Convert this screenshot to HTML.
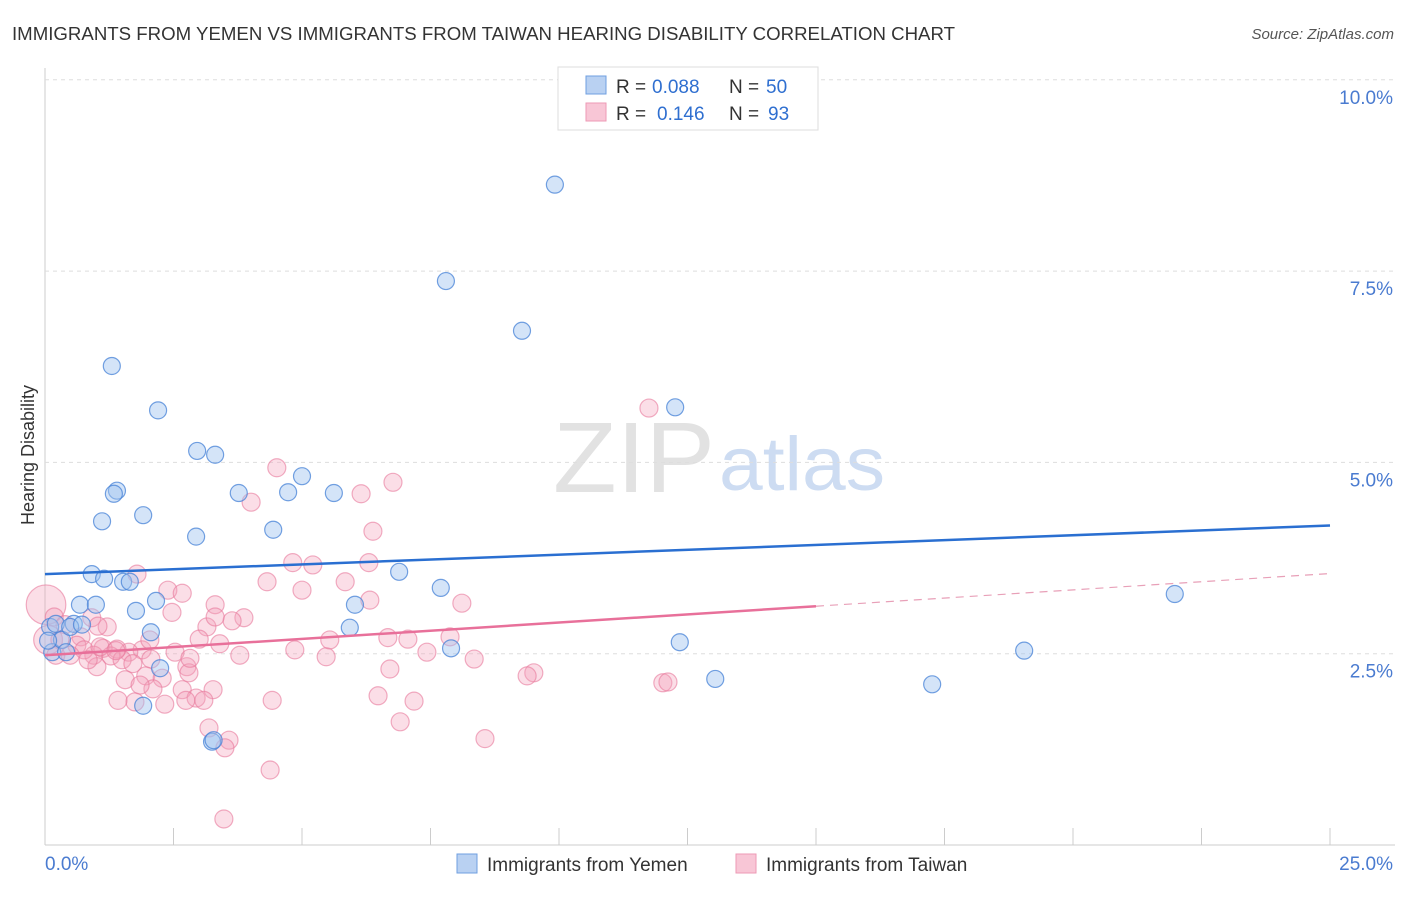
<!DOCTYPE html>
<html><head><meta charset="utf-8"><style>
body{margin:0;background:#fff;font-family:"Liberation Sans",sans-serif}
svg text{font-family:"Liberation Sans",sans-serif}
</style></head><body>
<svg id="c" width="1406" height="892">
<text x="12" y="40" font-size="18" fill="#333" textLength="943" lengthAdjust="spacingAndGlyphs">IMMIGRANTS FROM YEMEN VS IMMIGRANTS FROM TAIWAN HEARING DISABILITY CORRELATION CHART</text>
<text x="1394" y="39" font-size="15" fill="#555" font-style="italic" text-anchor="end">Source: ZipAtlas.com</text>
<text x="553" y="492" font-size="100" fill="#e2e2e2" font-family="Liberation Serif" textLength="162" lengthAdjust="spacingAndGlyphs">ZIP</text>
<text x="719" y="490" font-size="76" fill="#cddcf2" textLength="166" lengthAdjust="spacingAndGlyphs">atlas</text>
<text transform="translate(34,455) rotate(-90)" font-size="18" fill="#333" text-anchor="middle">Hearing Disability</text>
<g id="grid"></g><g id="marks"></g><g id="lines"></g>
<g>
<rect x="558" y="67" width="260" height="63" fill="#fff" stroke="#ddd"/>
<rect x="586" y="76" width="20" height="18" fill="#b9d1f2" stroke="#6f9fe0"/>
<rect x="586" y="103" width="20" height="18" fill="#f8c6d6" stroke="#ee9ab5"/>
<text x="616" y="93" font-size="19" fill="#333">R =</text>
<text x="652" y="93" font-size="19" fill="#2f6fd0">0.088</text>
<text x="729" y="93" font-size="19" fill="#333">N =</text>
<text x="766" y="93" font-size="19" fill="#2f6fd0">50</text>
<text x="616" y="120" font-size="19" fill="#333">R =</text>
<text x="657" y="120" font-size="19" fill="#2f6fd0">0.146</text>
<text x="729" y="120" font-size="19" fill="#333">N =</text>
<text x="768" y="120" font-size="19" fill="#2f6fd0">93</text>
</g>
<g>
<rect x="457" y="854" width="20" height="19" fill="#b9d1f2" stroke="#6f9fe0"/>
<text x="487" y="871" font-size="19" fill="#333">Immigrants from Yemen</text>
<rect x="736" y="854" width="20" height="19" fill="#f8c6d6" stroke="#ee9ab5"/>
<text x="766" y="871" font-size="19" fill="#333">Immigrants from Taiwan</text>
</g>
</svg>
<script>
const yTicks=[2.5,5.0,7.5,10.0];
const xTickLabels=["0.0%","25.0%"];
const blueX=[9.92,7.80,9.28,1.30,2.20,12.26,2.96,3.31,1.40,1.34,3.77,4.73,5.62,5.00,1.11,1.91,4.44,2.94,0.91,6.89,1.15,1.52,1.65,7.70,21.98,2.16,0.68,0.99,6.03,1.77,2.06,5.93,0.10,0.56,0.21,7.90,12.35,13.04,17.26,19.05,0.14,0.33,1.91,3.25,0.49,0.06,2.24,0.41,0.72,3.28];
const blueY=[8.63,7.37,6.72,6.26,5.68,5.72,5.15,5.10,4.63,4.59,4.60,4.61,4.60,4.82,4.23,4.31,4.12,4.03,3.54,3.57,3.48,3.44,3.44,3.36,3.28,3.19,3.14,3.14,3.14,3.06,2.78,2.84,2.85,2.89,2.89,2.57,2.65,2.17,2.10,2.54,2.52,2.68,1.82,1.35,2.85,2.67,2.31,2.52,2.88,1.37];
const pinkX=[0.02,0.06,11.75,4.51,6.77,6.15,4.01,6.38,1.79,4.82,5.21,6.30,4.32,5.84,5.00,2.39,2.67,3.31,6.32,8.11,2.47,3.87,3.64,3.15,1.21,0.91,0.18,6.67,7.06,7.88,3.00,3.40,1.89,1.63,1.40,2.53,1.13,0.70,0.62,0.95,1.28,1.50,2.06,2.76,2.80,1.01,1.71,7.43,8.35,5.47,6.71,9.51,9.38,12.02,12.12,1.96,1.56,2.28,2.67,2.10,3.27,2.94,2.74,3.09,4.42,6.48,7.18,1.75,2.33,3.19,3.58,3.50,6.91,8.56,4.38,3.48,0.29,0.39,0.76,0.21,1.03,3.31,1.07,1.38,2.82,1.85,0.49,0.84,3.79,2.04,1.42,4.86,5.54];
const pinkY=[3.14,2.68,5.71,4.93,4.74,4.59,4.48,4.10,3.54,3.69,3.66,3.69,3.44,3.44,3.33,3.33,3.29,3.14,3.20,3.16,3.04,2.97,2.93,2.85,2.85,2.97,2.98,2.71,2.69,2.72,2.69,2.63,2.55,2.52,2.56,2.52,2.57,2.72,2.61,2.48,2.47,2.42,2.43,2.33,2.25,2.33,2.37,2.52,2.43,2.46,2.30,2.25,2.21,2.12,2.13,2.21,2.16,2.18,2.03,2.04,2.03,1.92,1.89,1.89,1.89,1.95,1.88,1.87,1.84,1.53,1.37,1.27,1.61,1.39,0.98,0.34,2.68,2.88,2.55,2.48,2.86,2.98,2.59,2.54,2.44,2.09,2.48,2.42,2.48,2.68,1.89,2.55,2.68];
const pinkSize=[2.2,1.6];
const blueTrend=[3.54,0.0254];
const pinkTrend=[2.48,0.0427];
const X=v=>45+v*51.4, Y=v=>845-v*76.52;
const NS="http://www.w3.org/2000/svg";
function mk(tag,at,parent){const e=document.createElementNS(NS,tag);for(const k in at)e.setAttribute(k,at[k]);document.getElementById(parent).appendChild(e);return e;}
let a=mk('line',{x1:45,y1:68,x2:45,y2:845,stroke:'#ccc'},'grid');


a=mk('line',{x1:45,y1:845,x2:1395,y2:845,stroke:'#ccc'},'grid');


for(let i=0;i<=10;i++){const t=mk('line',{x1:X(i*2.5),y1:828,x2:X(i*2.5),y2:845,stroke:'#ccc'},'grid');

}
yTicks.forEach(v=>{const g=mk('line',{x1:45,y1:Y(v),x2:1395,y2:Y(v),stroke:'#ddd','stroke-dasharray':'4,4'},'grid');


const t=mk('text',{x:1393,y:Y(v)+24,'font-size':19,fill:'#4a7bd0','text-anchor':'end'},'grid');t.textContent=v.toFixed(1)+'%';

});
let l=mk('text',{x:45,y:870,'font-size':19,fill:'#4a7bd0'},'grid');l.textContent=xTickLabels[0];


l=mk('text',{x:1393,y:870,'font-size':19,fill:'#4a7bd0','text-anchor':'end'},'grid');l.textContent=xTickLabels[1];


pinkX.forEach((x,i)=>{const c=mk('circle',{cx:X(x),cy:Y(pinkY[i]),r:9*(pinkSize[i]||1),fill:'rgba(244,160,186,0.35)',stroke:'rgba(232,120,155,0.6)','stroke-width':1.2},'marks');

});
blueX.forEach((x,i)=>{const c=mk('circle',{cx:X(x),cy:Y(blueY[i]),r:8.5,fill:'rgba(160,195,240,0.45)',stroke:'rgba(70,130,215,0.75)','stroke-width':1.2},'marks');

});
let t=mk('line',{x1:X(0),y1:Y(blueTrend[0]),x2:X(25),y2:Y(blueTrend[0]+25*blueTrend[1]),stroke:'#2a6fd1','stroke-width':2.5},'lines');


t=mk('line',{x1:X(0),y1:Y(pinkTrend[0]),x2:X(15),y2:Y(pinkTrend[0]+15*pinkTrend[1]),stroke:'#e8709a','stroke-width':2.5},'lines');


t=mk('line',{x1:X(15),y1:Y(pinkTrend[0]+15*pinkTrend[1]),x2:X(25),y2:Y(pinkTrend[0]+25*pinkTrend[1]),stroke:'#e8a0b8','stroke-width':1.2,'stroke-dasharray':'8,6'},'lines');


</script>
</body></html>
